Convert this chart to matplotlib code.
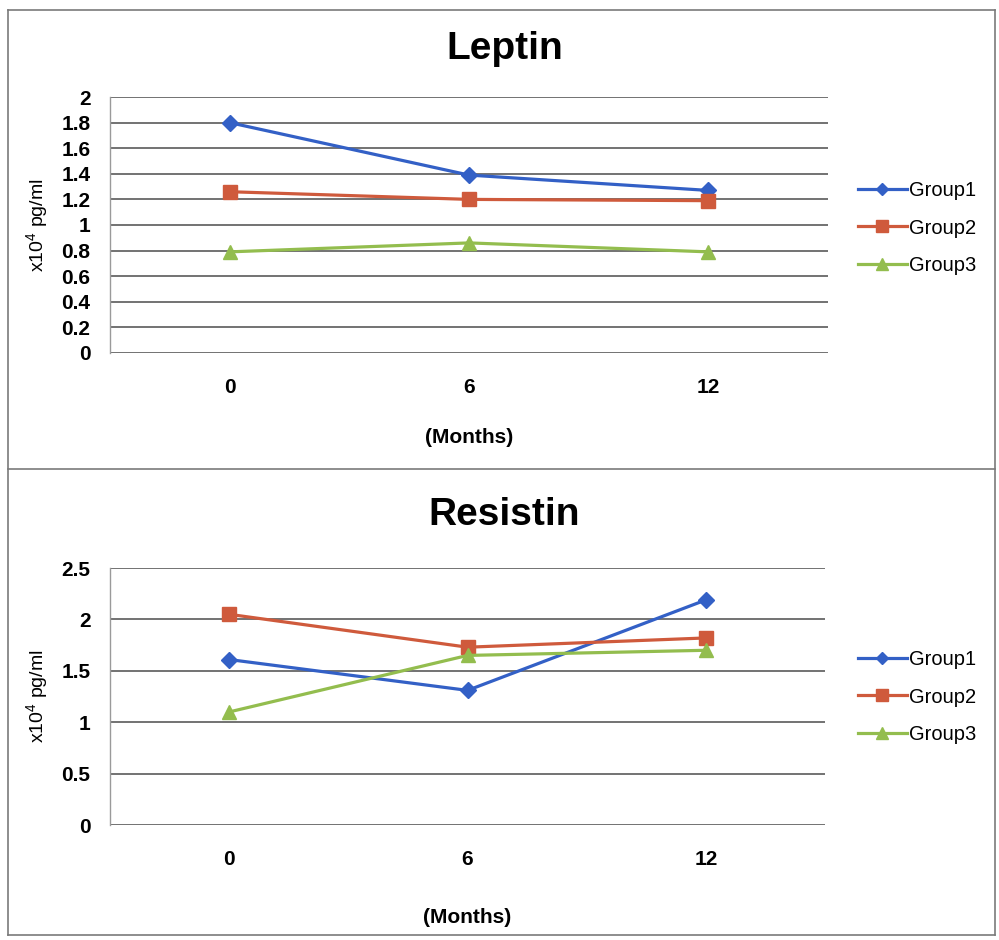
import matplotlib
matplotlib.use('Agg')
import matplotlib.pyplot as plt
from matplotlib.lines import Line2D
import numpy as np

plt.rcParams['font.family'] = ['Liberation Sans', 'DejaVu Sans']
plt.rcParams['mathtext.fontset'] = 'custom'
plt.rcParams['mathtext.rm'] = 'Liberation Sans'
plt.rcParams['mathtext.it'] = 'Liberation Sans'

months = ['0', '6', '12']
groups = ['Group1', 'Group2', 'Group3']

leptin_g1 = [1.80, 1.39, 1.27]
leptin_g2 = [1.26, 1.20, 1.19]
leptin_g3 = [0.79, 0.86, 0.79]

resistin_g1 = [1.61, 1.31, 2.19]
resistin_g2 = [2.05, 1.73, 1.82]
resistin_g3 = [1.10, 1.65, 1.70]

colors = ['#3360c6', '#cf5a3c', '#93bd4e']
markers = ['D', 's', '^']
msizes = [8, 10, 10]

fig = plt.figure(figsize=(9.99, 9.40), dpi=100)
fig.patch.set_facecolor('white')


def draw_panel(rect, title, series, ymax, ystep, leg_y, title_y, xpad):
    ax = fig.add_axes(rect)
    x = np.arange(len(months))
    for vals, name, c, m, ms in zip(series, groups, colors, markers, msizes):
        ax.plot(x, vals, color=c, marker=m, markersize=ms, linewidth=2.3,
                label=name, zorder=3)
    ax.set_xlim(-0.5, len(months) - 0.5)
    ax.set_ylim(0, ymax)
    yt = np.arange(0, ymax + ystep / 2, ystep)
    ax.set_yticks(yt)
    ax.set_yticklabels(['%g' % v for v in yt], fontsize=15, fontweight='bold')
    ax.set_xticks(x)
    ax.set_xticklabels(months, fontsize=15, fontweight='bold')
    ax.tick_params(axis='both', length=0)
    ax.tick_params(axis='y', pad=14)
    ax.tick_params(axis='x', pad=18)
    ax.grid(axis='y', color='#5a5a5a', linewidth=1.2)
    ax.set_axisbelow(True)
    for s in ['top', 'right', 'bottom']:
        ax.spines[s].set_visible(False)
    ax.spines['left'].set_color('#9a9a9a')
    ax.spines['left'].set_linewidth(1.0)
    ax.set_xlabel('(Months)', fontsize=15, fontweight='bold', labelpad=xpad)
    ax.set_ylabel('x10$^4$ pg/ml', fontsize=14, labelpad=8)
    fig.text(0.505, title_y, title, fontsize=28, fontweight='bold',
             ha='center', va='center')
    ax.legend(loc='center left', bbox_to_anchor=(0.849, leg_y),
              bbox_transform=fig.transFigure, frameon=False, fontsize=14.5,
              borderpad=0, handlelength=2.4, handletextpad=0.1,
              labelspacing=0.9, markerscale=0.8)
    return ax


draw_panel([0.110, 0.6245, 0.719, 0.2723], 'Leptin',
           [leptin_g1, leptin_g2, leptin_g3], 2.0, 0.2, 0.7574, 0.948, 22)
draw_panel([0.110, 0.1223, 0.716, 0.2734], 'Resistin',
           [resistin_g1, resistin_g2, resistin_g3], 2.5, 0.5, 0.2585, 0.452, 28)

# outer frame and divider between the two panels
fw, fh = 999.0, 940.0
frame = [((8, 10), (995, 10)), ((8, 10), (8, 935)), ((995, 10), (995, 935)),
         ((8, 935), (995, 935)), ((8, 469), (995, 469))]
for (x0, y0), (x1, y1) in frame:
    fig.add_artist(Line2D([x0 / fw, x1 / fw], [1 - y0 / fh, 1 - y1 / fh],
                          color='#7a7a7a', linewidth=1.2))

fig.savefig('out.png', dpi=100)
